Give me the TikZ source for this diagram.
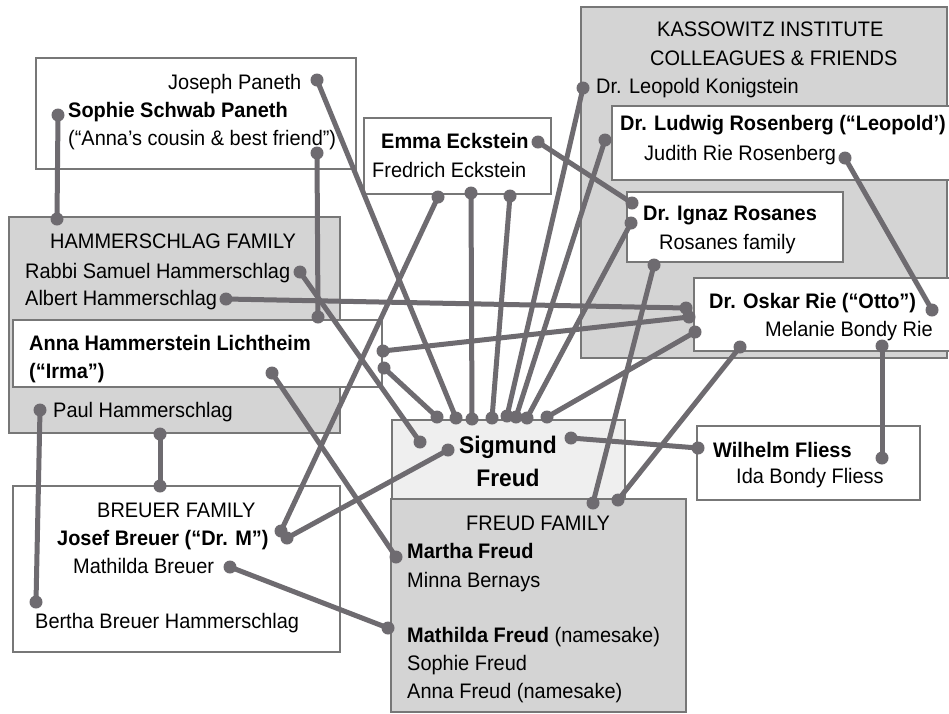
\documentclass[tikz,border=0pt]{standalone}
\usepackage{fontspec}
\setmainfont{Liberation Sans}[FakeStretch=0.95]
\definecolor{boxline}{HTML}{777777}
\definecolor{boxgray}{HTML}{D4D4D4}
\definecolor{sigfill}{HTML}{EFEFEF}
\definecolor{linkc}{HTML}{6E6B70}
\tikzset{
  graybox/.style={draw=boxline,fill=boxgray,line width=1.2pt},
  whitebox/.style={draw=boxline,fill=white,line width=1.2pt},
  sigbox/.style={draw=boxline,fill=sigfill,line width=1.2pt},
  link/.style={draw=linkc,line width=5pt},
  lbl/.style={anchor=base west,inner sep=0pt,font=\fontsize{21}{25}\selectfont},
  blbl/.style={lbl,font=\fontsize{21}{25}\selectfont\bfseries},
  siglbl/.style={anchor=base,inner sep=0pt,font=\fontsize{24}{28}\selectfont\bfseries},
}
\begin{document}
\begin{tikzpicture}[x=1pt,y=-1pt]
\useasboundingbox (0,0) rectangle (949,713);
\clip (0,0) rectangle (949,713);
\fill[white] (0,0) rectangle (949,713);
% boxes
\path[whitebox] (36,58) rectangle (356,169);
\path[graybox] (9,217) rectangle (340,433);
\path[whitebox] (13,320) rectangle (382,387);
\path[whitebox] (13,486) rectangle (340,652);
\path[whitebox] (364,118) rectangle (551,194);
\path[sigbox] (392,420) rectangle (625,500);
\path[graybox] (391,499) rectangle (686,712);
\path[graybox] (581,7) rectangle (947,358);
\path[whitebox] (612,106) rectangle (955,180);
\path[whitebox] (627,192) rectangle (843,262);
\path[whitebox] (694,278) rectangle (955,351);
\path[whitebox] (697,426) rectangle (920,500);
% connector end points
\coordinate (pJoseph) at (317,80);
\coordinate (pSophie) at (58,115);
\coordinate (pCousin) at (317,153);
\coordinate (hTop) at (57,219);
\coordinate (hCousin) at (318,317);
\coordinate (hRabbi) at (300,272);
\coordinate (hAlbert) at (226,299);
\coordinate (aIrma) at (272,373);
\coordinate (aR1) at (383,351);
\coordinate (aR2) at (384,368);
\coordinate (hPaul) at (40,410);
\coordinate (hBot) at (160,434);
\coordinate (bTop) at (160,486);
\coordinate (bJosA) at (281,531);
\coordinate (bJosB) at (287,538);
\coordinate (bMath) at (230,567);
\coordinate (bBertha) at (36,602);
\coordinate (eEmma) at (538,142);
\coordinate (eB1) at (438,197);
\coordinate (eB2) at (471,193);
\coordinate (eB3) at (510,196);
\coordinate (s1) at (437,417);
\coordinate (s2) at (456,418);
\coordinate (s3) at (472,419);
\coordinate (s4) at (492,418);
\coordinate (s5) at (507,416);
\coordinate (s5b) at (516,417);
\coordinate (s6) at (527,418);
\coordinate (s7) at (547,417);
\coordinate (sL1) at (420,442);
\coordinate (sL2) at (448,450);
\coordinate (sR) at (571,438);
\coordinate (kKon) at (583,88);
\coordinate (rRos) at (605,140);
\coordinate (rJud) at (845,158);
\coordinate (zA) at (632,203);
\coordinate (zB) at (631,223);
\coordinate (zBot) at (654,265);
\coordinate (oL1) at (686,308);
\coordinate (oL2) at (689,317);
\coordinate (oL3) at (695,332);
\coordinate (oBot) at (740,347);
\coordinate (oMel) at (882,346);
\coordinate (oR) at (932,310);
\coordinate (wL) at (698,448);
\coordinate (wIda) at (882,458);
\coordinate (fMartha) at (396,557);
\coordinate (fMath) at (388,628);
\coordinate (fT1) at (593,503);
\coordinate (fT2) at (618,500);
% connectors
\draw[link] (pJoseph) -- (s2);
\draw[link] (pSophie) -- (hTop);
\draw[link] (pCousin) -- (hCousin);
\draw[link] (hRabbi) -- (sL1);
\draw[link] (hAlbert) -- (oL1);
\draw[link] (aR1) -- (oL2);
\draw[link] (aR2) -- (s1);
\draw[link] (aIrma) -- (fMartha);
\draw[link] (hPaul) -- (bBertha);
\draw[link] (hBot) -- (bTop);
\draw[link] (bJosA) -- (eB1);
\draw[link] (bJosB) -- (sL2);
\draw[link] (bMath) -- (fMath);
\draw[link] (eB2) -- (s3);
\draw[link] (eB3) -- (s4);
\draw[link] (eEmma) -- (zA);
\draw[link] (kKon) -- (s5);
\draw[link] (rRos) -- (s5b);
\draw[link] (zB) -- (s6);
\draw[link] (oL3) -- (s7);
\draw[link] (zBot) -- (fT1);
\draw[link] (oBot) -- (fT2);
\draw[link] (rJud) -- (oR);
\draw[link] (oMel) -- (wIda);
\draw[link] (sR) -- (wL);
\foreach \p in {pJoseph,pSophie,pCousin,hTop,hCousin,hRabbi,hAlbert,aIrma,aR1,aR2,hPaul,hBot,bTop,bJosA,bJosB,bMath,bBertha,eEmma,eB1,eB2,eB3,s1,s2,s3,s4,s5,s5b,s6,s7,sL1,sL2,sR,kKon,rRos,rJud,zA,zB,zBot,oL1,oL2,oL3,oBot,oMel,oR,wL,wIda,fMartha,fMath,fT1,fT2}
  \fill[linkc] (\p) circle (6.5pt);
% texts
\node[lbl] (tJoseph) at (168,89) {Joseph Paneth};
\node[blbl] (tSophie) at (68,117) {Sophie Schwab Paneth};
\node[lbl] (tCousin) at (68,145) {(“Anna’s cousin \& best friend”)};
\node[lbl] (tHam) at (50,248) {HAMMERSCHLAG FAMILY};
\node[lbl] (tRabbi) at (25,278) {Rabbi Samuel Hammerschlag};
\node[lbl] (tAlbert) at (25,305) {Albert Hammerschlag};
\node[blbl] (tAnna) at (29,350) {Anna Hammerstein Lichtheim};
\node[blbl] (tIrma) at (29,378) {(“Irma”)};
\node[lbl] (tPaul) at (53,417) {Paul Hammerschlag};
\node[lbl] (tBreuer) at (97,517) {BREUER FAMILY};
\node[blbl] (tJosef) at (57,545) {Josef Breuer (“Dr. M”)};
\node[lbl] (tMathB) at (73,573) {Mathilda Breuer};
\node[lbl] (tBertha) at (35,628) {Bertha Breuer Hammerschlag};
\node[blbl] (tEmma) at (381,148) {Emma Eckstein};
\node[lbl] (tFred) at (372,177) {Fredrich Eckstein};
\node[siglbl] (tSig1) at (508,453) {Sigmund};
\node[siglbl] (tSig2) at (508,486) {Freud};
\node[lbl] (tFF) at (466,530) {FREUD FAMILY};
\node[blbl] (tMartha) at (407,558) {Martha Freud};
\node[lbl] (tMinna) at (407,587) {Minna Bernays};
\node[lbl] (tMathF) at (407,642) {{\bfseries Mathilda Freud} (namesake)};
\node[lbl] (tSophF) at (407,670) {Sophie Freud};
\node[lbl] (tAnnaF) at (407,698) {Anna Freud (namesake)};
\node[lbl] (tKas1) at (657,36) {KASSOWITZ INSTITUTE};
\node[lbl] (tKas2) at (650,65) {COLLEAGUES \& FRIENDS};
\node[lbl] (tKon) at (596,93) {Dr. Leopold Konigstein};
\node[blbl] (tLud) at (620,130) {Dr. Ludwig Rosenberg (“Leopold’)};
\node[lbl] (tJud) at (644,160) {Judith Rie Rosenberg};
\node[blbl] (tIgn) at (643,220) {Dr. Ignaz Rosanes};
\node[lbl] (tRosF) at (659,249) {Rosanes family};
\node[blbl] (tOsk) at (709,308) {Dr. Oskar Rie (“Otto”)};
\node[lbl] (tMel) at (765,336) {Melanie Bondy Rie};
\node[blbl] (tWil) at (713,457) {Wilhelm Fliess};
\node[lbl] (tIda) at (736,483) {Ida Bondy Fliess};
\end{tikzpicture}
\end{document}
